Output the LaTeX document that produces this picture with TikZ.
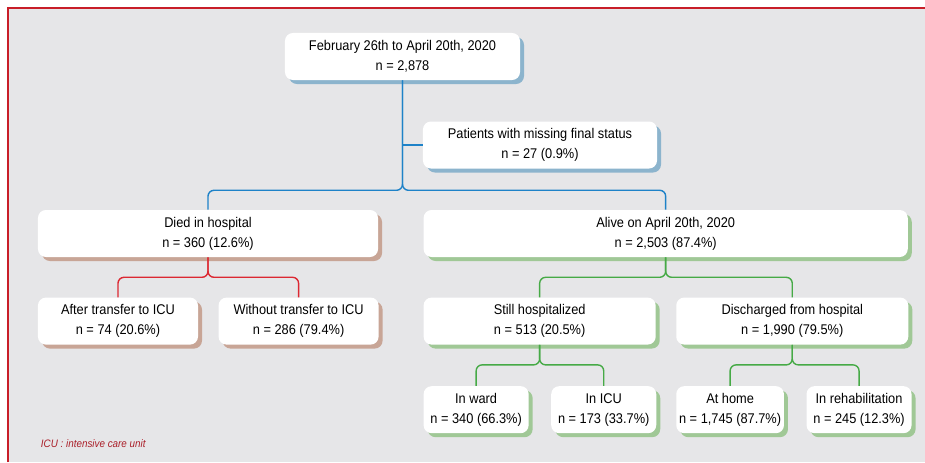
\documentclass[tikz,border=0pt]{standalone}
\usepackage{fontspec}
\setmainfont{Liberation Sans}[FakeStretch=0.91]
\usepackage{tikz}
\usetikzlibrary{positioning,shadows}
\definecolor{bggray}{RGB}{230,230,232}
\definecolor{framered}{RGB}{200,30,40}
\definecolor{notered}{RGB}{170,30,40}
\definecolor{linkblue}{RGB}{30,130,200}
\definecolor{linkred}{RGB}{220,40,50}
\definecolor{linkgreen}{RGB}{70,170,70}
\definecolor{shadeblue}{RGB}{140,180,205}
\definecolor{shadebrown}{RGB}{200,165,150}
\definecolor{shadegreen}{RGB}{160,200,150}
\tikzstyle{box} = [rectangle, rounded corners=0.2cm, fill=white, minimum height=1.175cm, align=center, inner sep=2pt, font=\fontsize{10}{14.2}\selectfont]
\tikzstyle{bluebox} = [box, drop shadow={shadow xshift=0.1cm, shadow yshift=-0.1cm, fill=shadeblue, opacity=1}]
\tikzstyle{brownbox} = [box, drop shadow={shadow xshift=0.1cm, shadow yshift=-0.1cm, fill=shadebrown, opacity=1}]
\tikzstyle{greenbox} = [box, drop shadow={shadow xshift=0.1cm, shadow yshift=-0.1cm, fill=shadegreen, opacity=1}]
\tikzstyle{bluelink} = [line width=1pt, draw=linkblue, rounded corners=0.15cm]
\tikzstyle{redlink} = [line width=1pt, draw=linkred, rounded corners=0.15cm]
\tikzstyle{greenlink} = [line width=1pt, draw=linkgreen, rounded corners=0.15cm]

\begin{document}
\begin{tikzpicture}[x=0.025cm, y=-0.025cm, node distance=1cm]
        \useasboundingbox (0,0) rectangle (925,462);
        \fill[white] (0,0) rectangle (925,462);
        \fill[bggray] (8,8) rectangle (925,462);
        \draw[framered, line width=1.4pt] (8,462) -- (8,8) -- (925,8);

        \node (start) [bluebox, minimum width=5.875cm] at (402.5,56.5) {February 26th to April 20th, 2020\\n = 2,878};
        \node (missing) [bluebox, minimum width=5.85cm] at (540,145) {Patients with missing final status\\n = 27 (0.9\%)};
        \node (died) [brownbox, minimum width=8.5cm] at (208,233.5) {Died in hospital\\n = 360 (12.6\%)};
        \node (alive) [greenbox, minimum width=12.1cm, right = 1.125cm of died] {Alive on April 20th, 2020\\n = 2,503 (87.4\%)};
        \node (after) [brownbox, minimum width=4cm, below right = 1cm and 0cm of died.south west] {After transfer to ICU\\n = 74 (20.6\%)};
        \node (without) [brownbox, minimum width=4cm, right = 0.5cm of after] {Without transfer to ICU\\n = 286 (79.4\%)};
        \node (still) [greenbox, minimum width=5.8cm, below right = 1cm and 0cm of alive.south west] {Still hospitalized\\n = 513 (20.5\%)};
        \node (disch) [greenbox, minimum width=5.8cm, right = 0.5cm of still] {Discharged from hospital\\n = 1,990 (79.5\%)};
        \node (ward) [greenbox, minimum width=2.625cm, below right = 1.025cm and 0cm of still.south west] {In ward\\n = 340 (66.3\%)};
        \node (icu) [greenbox, minimum width=2.625cm, right = 0.55cm of ward] {In ICU\\n = 173 (33.7\%)};
        \node (home) [greenbox, minimum width=2.625cm, below right = 1.025cm and 0cm of disch.south west] {At home\\n = 1,745 (87.7\%)};
        \node (rehab) [greenbox, minimum width=2.625cm, right = 0.55cm of home] {In rehabilitation\\n = 245 (12.3\%)};
        \node (note) [anchor=west, text=notered, font=\fontsize{7.7}{9}\selectfont\itshape] at (36,444) {ICU : intensive care unit};

        \draw [bluelink] (start.south |- missing.west) -- (missing.west);
        \draw [bluelink] (start.south) -- ++(0,110) -| (died.north);
        \draw [bluelink] (start.south) -- ++(0,110) -| (alive.north);
        \draw [redlink] (died.south) -- ++(0,20) -| (after.north);
        \draw [redlink] (died.south) -- ++(0,20) -| (without.north);
        \draw [greenlink] (alive.south) -- ++(0,20) -| (still.north);
        \draw [greenlink] (alive.south) -- ++(0,20) -| (disch.north);
        \draw [greenlink] (still.south) -- ++(0,20) -| (ward.north);
        \draw [greenlink] (still.south) -- ++(0,20) -| (icu.north);
        \draw [greenlink] (disch.south) -- ++(0,20) -| (home.north);
        \draw [greenlink] (disch.south) -- ++(0,20) -| (rehab.north);
    \end{tikzpicture}
\end{document}
